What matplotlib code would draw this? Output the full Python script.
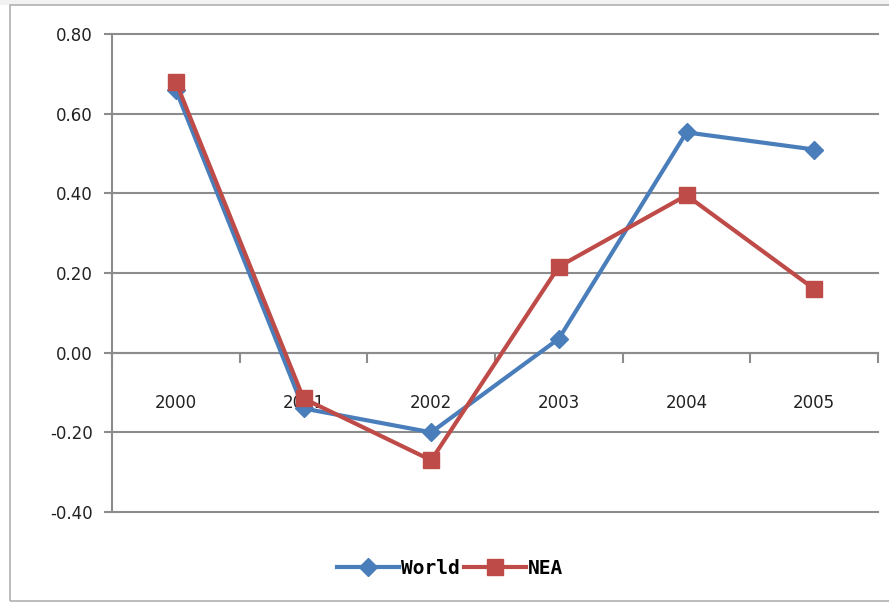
import matplotlib
matplotlib.use("Agg")
import matplotlib.pyplot as plt
from matplotlib.patches import Rectangle
import numpy as np

# Data
years = ["2000", "2001", "2002", "2003", "2004", "2005"]
world = [0.66, -0.14, -0.20, 0.035, 0.553, 0.51]
nea = [0.68, -0.115, -0.27, 0.216, 0.395, 0.16]
yticks = [-0.40, -0.20, 0.00, 0.20, 0.40, 0.60, 0.80]

W, H = 889, 605
fig = plt.figure(figsize=(W / 100, H / 100), dpi=100)
fig.patch.set_facecolor("white")

# outer chart frame
fig.add_artist(Rectangle((0, (H - 5) / H), 1, 5 / H, transform=fig.transFigure,
                         facecolor="#f2f2f2", edgecolor="none"))
fig.add_artist(Rectangle((10 / W, 4 / H), 1.0, (H - 9) / H, transform=fig.transFigure,
                         facecolor="none", edgecolor="#b0b0b0", linewidth=1.2))

left, right = 112 / W, 878 / W
top, bottom = (H - 34) / H, (H - 512) / H
ax = fig.add_axes([left, bottom, right - left, top - bottom])

x = np.arange(len(years))
blue = "#4a7ebb"
red = "#be4b48"
ax.plot(x, world, color=blue, linewidth=3, marker="D", markersize=9,
        label="World", zorder=3)
ax.plot(x, nea, color=red, linewidth=3, marker="s", markersize=11,
        label="NEA", zorder=4)

ax.set_xlim(-0.5, len(years) - 0.5)
ax.set_ylim(-0.4, 0.8)
ax.set_yticks(yticks)
ax.set_yticklabels([f"{v:.2f}" for v in yticks], fontsize=12, color="#222222")
ax.yaxis.grid(True, color="#8c8c8c", linewidth=1.5)
for gl in ax.get_ygridlines():
    gl.set_clip_on(False)
ax.set_axisbelow(True)

# x axis crosses at zero, Excel style
for s in ["top", "right"]:
    ax.spines[s].set_visible(False)
ax.spines["bottom"].set_position(("data", 0))
ax.spines["bottom"].set_color("#8c8c8c")
ax.spines["bottom"].set_linewidth(1.5)
ax.spines["left"].set_color("#8c8c8c")
ax.spines["left"].set_linewidth(1.5)

ax.set_xticks(np.arange(len(years) + 1) - 0.5)
ax.set_xticklabels([])
ax.tick_params(axis="x", which="major", length=7, width=1.5, color="#8c8c8c")
ax.set_xticks(x, minor=True)
ax.set_xticklabels(years, minor=True, fontsize=12, color="#222222")
ax.tick_params(axis="x", which="minor", length=0, pad=30)
ax.tick_params(axis="y", length=6, width=1.5, color="#8c8c8c", pad=8)

leg = fig.legend(loc="center", bbox_to_anchor=(450 / W, (H - 568) / H), ncol=2,
                 frameon=False, handlelength=3.2, columnspacing=0.2,
                 handletextpad=0.1,
                 prop={"family": "DejaVu Sans Mono", "weight": "bold", "size": 14})

fig.savefig("out.png", dpi=100)
